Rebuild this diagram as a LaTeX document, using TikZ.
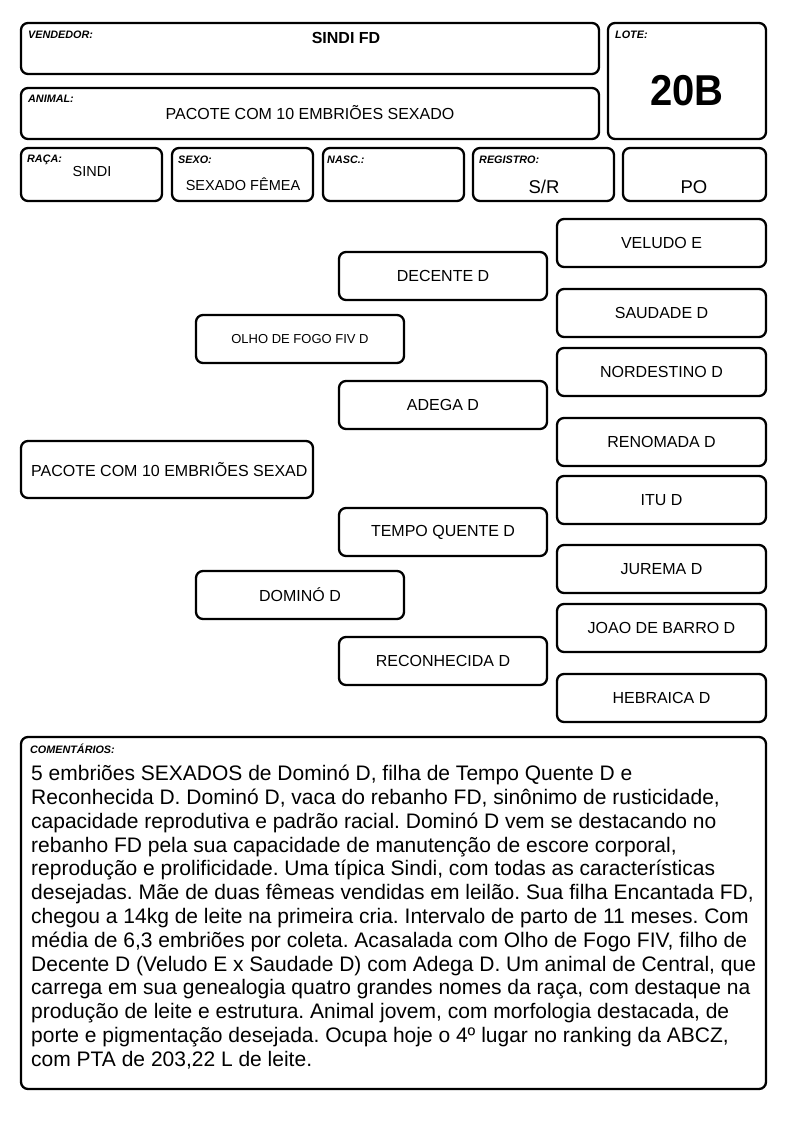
\documentclass[tikz,border=0pt]{standalone}
\usepackage{fontspec}
\setmainfont{Liberation Sans}
\usetikzlibrary{fit}
\tikzset{
  box/.style={draw, line width=2.3pt, rounded corners=7pt, inner sep=0pt, fill=white},
  lbl/.style={anchor=north west, inner sep=0pt, font=\fontsize{10.8}{12}\selectfont\bfseries\itshape},
  val/.style={inner sep=0pt, font=\fontsize{16}{18}\selectfont},
  ped/.style={inner sep=0pt, font=\fontsize{16}{18}\selectfont}
}
\newcommand\bx[5]{\node[box, fit={(#2,#3)(#4,#5)}] (#1) {};}
\begin{document}
\frenchspacing
\begin{tikzpicture}[x=1pt,y=-1pt]
\useasboundingbox (0,0) rectangle (794,1123);
% header
\bx{vend}{21}{23}{599}{74}
\bx{lote}{608}{23}{766}{139}
\bx{anim}{21}{88}{599}{139}
\bx{raca}{21}{148}{162}{201}
\bx{sexo}{172}{148}{313}{201}
\bx{nasc}{323}{148}{464}{201}
\bx{reg}{473}{148}{614}{201}
\bx{po}{623}{148}{766}{201}
\node[lbl] (lvend) at (28,31) {VENDEDOR:};
\node[lbl] (llote) at (615,31) {LOTE:};
\node[lbl] (lanim) at (28,95) {ANIMAL:};
\node[lbl] (lraca) at (27,155) {RAÇA:};
\node[lbl] (lsexo) at (178,156) {SEXO:};
\node[lbl] (lnasc) at (327,156) {NASC.:};
\node[lbl] (lreg) at (479,156) {REGISTRO:};
\node[val, font=\fontsize{16}{18}\selectfont\bfseries] (tvend) at (346,38) {SINDI FD};
\node[val, font=\fontsize{40}{44}\selectfont\bfseries] (tlote) at (687,91) {\scalebox{1}[1.08]{20B}};
\node[val] (tanim) at (310,113) {PACOTE COM 10 EMBRIÕES SEXADO};
\node[val, font=\fontsize{14.5}{16}\selectfont] (traca) at (92,172) {SINDI};
\node[val, font=\fontsize{14.5}{16}\selectfont] (tsexo) at (243,184) {SEXADO FÊMEA};
\node[val, font=\fontsize{18.5}{20}\selectfont] (treg) at (544,187) {S/R};
\node[val, font=\fontsize{18.5}{20}\selectfont] (tpo) at (694,187) {PO};
% pedigree
\bx{main}{21}{441}{313}{498}
\node[ped, anchor=west] (tmain) at (31,470) {PACOTE COM 10 EMBRIÕES SEXAD};
\bx{olho}{196}{315}{404}{363}
\node[ped, font=\fontsize{13}{15}\selectfont] at (olho.center) {OLHO DE FOGO FIV D};
\bx{domino}{196}{571}{404}{619}
\node[ped] at (domino.center) {DOMINÓ D};
\bx{decente}{339}{252}{547}{300}
\node[ped] at (decente.center) {DECENTE D};
\bx{adega}{339}{381}{547}{429}
\node[ped] at (adega.center) {ADEGA D};
\bx{tempo}{339}{508}{547}{556}
\node[ped] at (tempo.center) {TEMPO QUENTE D};
\bx{recon}{339}{637}{547}{685}
\node[ped] at (recon.center) {RECONHECIDA D};
\bx{veludo}{557}{219}{766}{267}
\node[ped] at (veludo.center) {VELUDO E};
\bx{saudade}{557}{289}{766}{337}
\node[ped] at (saudade.center) {SAUDADE D};
\bx{nord}{557}{348}{766}{396}
\node[ped] at (nord.center) {NORDESTINO D};
\bx{renom}{557}{418}{766}{466}
\node[ped] at (renom.center) {RENOMADA D};
\bx{itu}{557}{476}{766}{524}
\node[ped] at (itu.center) {ITU D};
\bx{jurema}{557}{545}{766}{593}
\node[ped] at (jurema.center) {JUREMA D};
\bx{joao}{557}{604}{766}{652}
\node[ped] at (joao.center) {JOAO DE BARRO D};
\bx{hebr}{557}{674}{766}{722}
\node[ped] at (hebr.center) {HEBRAICA D};
% comments
\bx{com}{21}{737}{766}{1089}
\node[lbl] (lcom) at (30,744) {COMENTÁRIOS:};
\node[anchor=north west, inner sep=0pt, align=left, font=\fontsize{21}{23.8}\selectfont] (tcom) at (31,765) {%
5 embriões SEXADOS de Dominó D, filha de Tempo Quente D e\\
Reconhecida D. Dominó D, vaca do rebanho FD, sinônimo de rusticidade,\\
capacidade reprodutiva e padrão racial. Dominó D vem se destacando no\\
rebanho FD pela sua capacidade de manutenção de escore corporal,\\
reprodução e prolificidade. Uma típica Sindi, com todas as características\\
desejadas. Mãe de duas fêmeas vendidas em leilão. Sua filha Encantada FD,\\
chegou a 14kg de leite na primeira cria. Intervalo de parto de 11 meses. Com\\
média de 6,3 embriões por coleta. Acasalada com Olho de Fogo FIV, filho de\\
Decente D (Veludo E x Saudade D) com Adega D. Um animal de Central, que\\
carrega em sua genealogia quatro grandes nomes da raça, com destaque na\\
produção de leite e estrutura. Animal jovem, com morfologia destacada, de\\
porte e pigmentação desejada. Ocupa hoje o 4º lugar no ranking da ABCZ,\\
com PTA de 203,22 L de leite.};
\end{tikzpicture}
\end{document}
